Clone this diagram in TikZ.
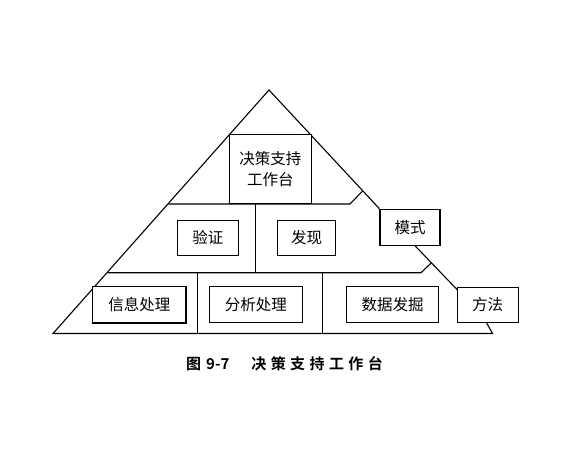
\documentclass[tikz,border=0pt]{standalone}
\usepackage{fontspec}
\usetikzlibrary{calc,backgrounds}
\newfontfamily\cjk{Noto Sans CJK SC}
\newfontfamily\cjkbold{Noto Sans CJK SC Bold}
\newcommand{\gs}{\hspace{4.4pt}}
\begin{document}
\begin{tikzpicture}[x=1pt,y=-1pt,
  edge/.style={line width=1.1pt, line join=miter},
  boxn/.style={draw, fill=white, line width=1.1pt, rectangle, inner sep=0pt, font=\cjk\fontsize{15.5}{21.5}\selectfont, text=black},
  capn/.style={inner sep=0pt, font=\cjkbold\fontsize{15}{18}\selectfont, anchor=west}]
\useasboundingbox (0,0) rectangle (565,451);
% apex and triangle corners
\coordinate (apex) at (269,90);
\coordinate (bl) at (53,333.5);
\coordinate (br) at (492.5,333.5);
% boxes
\node[boxn, minimum width=81.5pt, minimum height=69.2pt, align=center] (top) at (270.3,168.9) {决策支持\\工作台};
\node[boxn, minimum width=61pt, minimum height=35.7pt] (yz) at (207.8,237.9) {验证};
\node[boxn, minimum width=58.4pt, minimum height=35.7pt] (fx) at (306.5,237.9) {发现};
\node[boxn, minimum width=60pt, minimum height=36.4pt] (ms) at (410,227.5) {模式};
\node[boxn, minimum width=93.3pt, minimum height=36.5pt] (xx) at (139.3,304.7) {信息处理};
\node[boxn, minimum width=93pt, minimum height=35.6pt] (fl) at (255.8,304.5) {分析处理};
\node[boxn, minimum width=91.6pt, minimum height=35.6pt] (sj) at (392.5,304.5) {数据发掘};
\node[boxn, minimum width=61.3pt, minimum height=35.4pt] (ff) at (487.7,305) {方法};
\begin{scope}[on background layer]
% outline
\coordinate (msin) at (415,245.7);
\coordinate (ffin) at (457,289.5);
\draw[edge] (ms.north west) -- (apex) -- (bl) -- (br) -- (486.5,322.7);
\draw[edge] (msin) -- (ffin);
% level 1 line
\coordinate (l1a) at (168,204);
\coordinate (l1b) at (350,204);
\coordinate (l1c) at (362.5,191);
\draw[edge] (l1a) -- (l1b) -- (l1c);
% level 2 line
\coordinate (l2a) at (107.3,272.7);
\coordinate (l2b) at (421,272.7);
\coordinate (l2c) at ($(msin)!0.39!(ffin)$);
\draw[edge] (l2a) -- (l2b) -- (l2c);
% dividers
\draw[edge] (255.7,204) -- (255.7,272.7);
\draw[edge] (197.3,272.7) -- (197.3,333.5);
\draw[edge] (322.3,272.7) -- (322.3,333.5);
\end{scope}
% caption
\node[capn] (cap) at (186,363.5) {图\hspace{5pt}9-7\hspace{22pt}决\gs 策\gs 支\gs 持\gs 工\gs 作\gs 台};
\end{tikzpicture}
\end{document}
